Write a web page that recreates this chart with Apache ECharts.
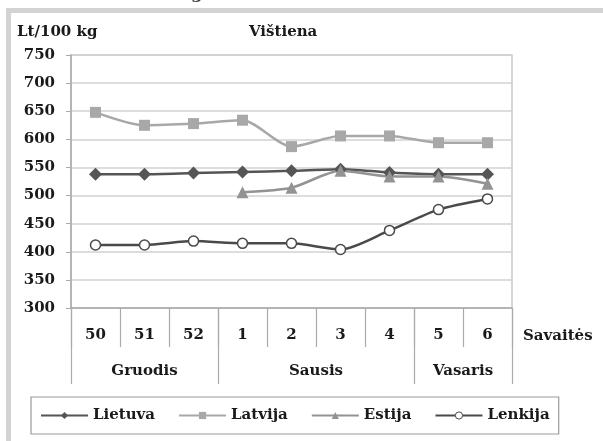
<!DOCTYPE html>
<html>
<head>
<meta charset="utf-8">
<script src="https://cdn.jsdelivr.net/npm/echarts@6/dist/echarts.min.js"></script>
<style>html,body{margin:0;padding:0;background:#fff}#c{width:603px;height:441px}</style>
</head>
<body>
<div id="c"></div>
<script>
const weeks = ['50','51','52','1','2','3','4','5','6'];
const months = ['Gruodis','Sausis','Vasaris'];
const monthSpans = [3,4,2];
const seriesNames = ['Lietuva','Latvija','Estija','Lenkija'];
const lietuva = [538, 538, 540, 542, 544, 547, 541, 538, 538];
const latvija = [648, 625, 628, 634, 587, 606, 606, 594, 594];
const estija  = [null, null, null, 506, 514, 544, 534, 534, 521];
const lenkija = [412, 412, 419, 415, 415, 404, 438, 475, 494];
const yTicks = [300, 350, 400, 450, 500, 550, 600, 650, 700, 750];

const FONT = 'DejaVu Serif';
const txt = {fontFamily: FONT, fontWeight: 'bold', fontSize: 15, color: '#1a1a1a'};

const bounds = [0];
monthSpans.forEach(s => bounds.push(bounds[bounds.length-1] + s));
const centres = monthSpans.map((s, i) => bounds[i] + s / 2);

const chart = echarts.init(document.getElementById('c'), null, {renderer: 'canvas'});
chart.setOption({
  animation: false,
  backgroundColor: '#fff',
  title: {
    text: 'Vištiena', left: 244, top: 20,
    textStyle: Object.assign({}, txt)
  },
  graphic: [
    {type: 'rect', shape: {x: 6, y: 8, width: 597, height: 5}, style: {fill: '#d3d3d3'}},
    {type: 'rect', shape: {x: 6, y: 8, width: 5, height: 433}, style: {fill: '#d3d3d3'}},
    {type: 'text', left: 17, top: 25, style: {text: 'Lt/100 kg', font: 'bold 15px "DejaVu Serif"', fill: '#1a1a1a'}},
    {type: 'text', x: 191, y: -15, style: {text: 'g', font: 'bold 17px "DejaVu Serif"', fill: '#444'}}
  ],
  grid: {left: 71, right: 91, top: 55, bottom: 133, show: true, borderColor: '#c9c9c9', borderWidth: 1.5, backgroundColor: 'transparent'},
  legend: {
    data: seriesNames,
    left: 31, top: 397,
    padding: [11, 9, 11, 9],
    itemWidth: 47, itemHeight: 9, itemGap: 23,
    itemStyle: {borderWidth: 1},
    lineStyle: {width: 2},
    borderColor: '#9a9a9a', borderWidth: 1.2,
    textStyle: Object.assign({}, txt)
  },
  xAxis: [{
    type: 'category',
    data: weeks,
    boundaryGap: true,
    axisLine: {show: true, lineStyle: {color: '#aaaaaa', width: 1.5}},
    axisTick: {show: true, interval: 0, length: 39, lineStyle: {color: '#aaaaaa', width: 1.2}},
    axisLabel: Object.assign({interval: 0, margin: 20}, txt),
    splitLine: {show: false},
    name: 'Savaitės',
    nameLocation: 'end',
    nameGap: 11,
    nameTextStyle: Object.assign({verticalAlign: 'top', padding: [21, 0, 0, 0]}, txt)
  }, {
    type: 'value',
    position: 'bottom',
    min: 0, max: bounds[bounds.length-1],
    axisLine: {show: false},
    splitLine: {show: false},
    axisTick: {show: true, customValues: bounds, length: 76, lineStyle: {color: '#aaaaaa', width: 1.2}},
    axisLabel: Object.assign({
      customValues: centres, margin: 56,
      formatter: v => { const i = centres.indexOf(v); return i >= 0 ? months[i] : ''; }
    }, txt)
  }],
  yAxis: {
    type: 'value',
    min: yTicks[0], max: yTicks[yTicks.length-1], interval: 50,
    axisLine: {show: true, lineStyle: {color: '#aaaaaa', width: 1.5}},
    axisTick: {show: true, length: 5, lineStyle: {color: '#aaaaaa'}},
    axisLabel: Object.assign({margin: 16}, txt),
    splitLine: {show: true, lineStyle: {color: '#d2d2d2', width: 1.5}}
  },
  series: [
    {name: 'Lietuva', type: 'line', data: lietuva, smooth: 0.25, symbol: 'diamond', symbolSize: 13, showAllSymbol: true,
     lineStyle: {color: '#555555', width: 2.5}, itemStyle: {color: '#555555'}},
    {name: 'Latvija', type: 'line', data: latvija, smooth: 0.25, symbol: 'rect', symbolSize: 11, showAllSymbol: true,
     lineStyle: {color: '#a8a8a8', width: 2.5}, itemStyle: {color: '#a8a8a8'}},
    {name: 'Estija', type: 'line', data: estija, smooth: 0.25, symbol: 'triangle', symbolSize: 12, showAllSymbol: true,
     lineStyle: {color: '#939393', width: 2.5}, itemStyle: {color: '#939393'}},
    {name: 'Lenkija', type: 'line', data: lenkija, smooth: 0.25, symbol: 'circle', symbolSize: 10, showAllSymbol: true,
     lineStyle: {color: '#4a4a4a', width: 2.5}, itemStyle: {color: '#ffffff', borderColor: '#4a4a4a', borderWidth: 1.5}}
  ]
});
</script>
</body>
</html>
